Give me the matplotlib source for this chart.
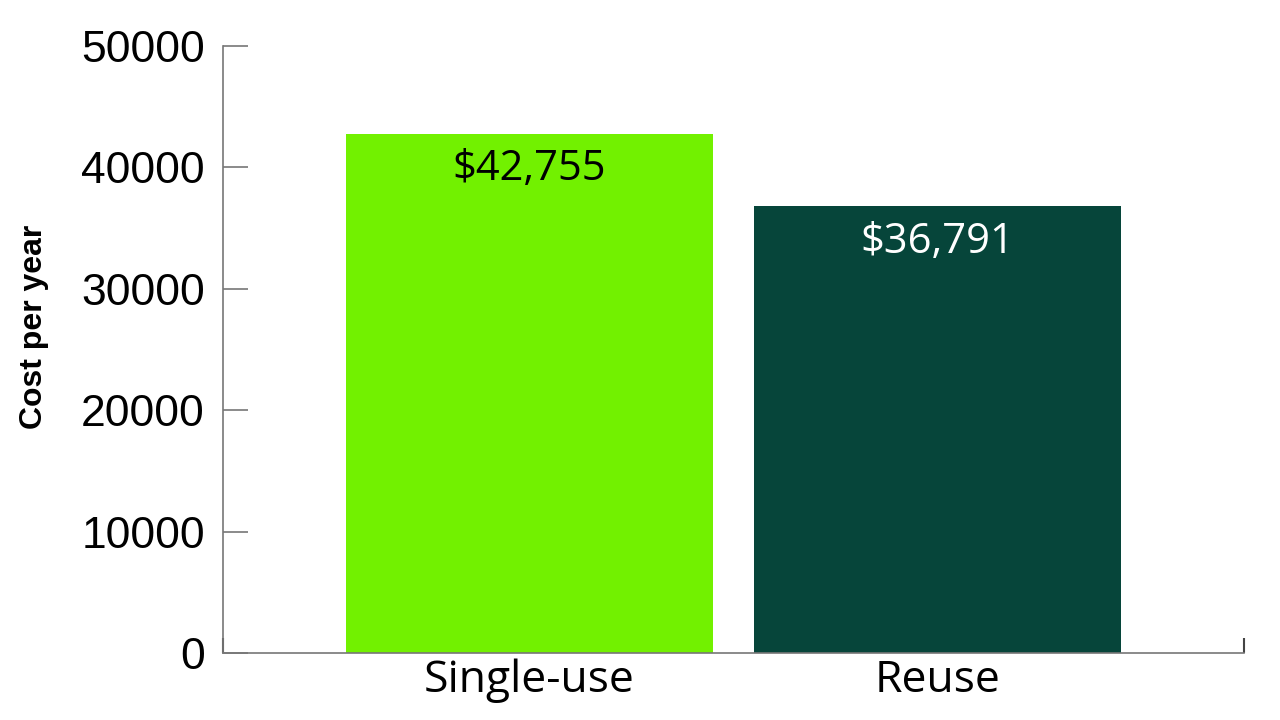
import matplotlib
matplotlib.use("Agg")
import matplotlib.pyplot as plt

categories = ["Single-use", "Reuse"]
values = [42755, 36791]
bar_labels = ["$42,755", "$36,791"]
colors = ["#72F100", "#06453A"]
label_colors = ["black", "white"]
yticks = [0, 10000, 20000, 30000, 40000, 50000]

fig = plt.figure(figsize=(12.8, 7.2), dpi=100)
ax = fig.add_axes([223/1280, 1-653/720, (1244-223)/1280, (653-46)/720])

x = list(range(len(categories)))
ax.bar(x, values, width=0.9, color=colors, zorder=2)
for xi, v, lab, lc in zip(x, values, bar_labels, label_colors):
    ax.annotate(lab, (xi, v), xytext=(0, -25.5), textcoords="offset points",
                ha="center", va="center", fontsize=30, color=lc, family="Open Sans")

ax.set_xlim(-0.75, 1.75)
ax.set_ylim(0, 50000)
ax.set_yticks(yticks)
ax.set_yticklabels([str(t) for t in yticks], family="Liberation Sans", fontsize=32)
ax.set_xticks(x)
ax.set_xticklabels(categories, family="Open Sans", fontsize=32)
ax.tick_params(axis="x", length=0, pad=4)
ax.tick_params(axis="y", direction="in", length=18, width=1.2, color="#777777", pad=13)
ax.set_xticks([-0.75, 1.75], minor=True)
ax.tick_params(axis="x", which="minor", direction="in", length=11, width=1.5, color="#444444")

for s in ["top", "right"]:
    ax.spines[s].set_visible(False)
for s in ["left", "bottom"]:
    ax.spines[s].set_color("#777777")
    ax.spines[s].set_linewidth(1.2)

fig.text(34/1280, 1-327/720, "Cost per year", family="Liberation Sans", fontweight="bold",
         fontsize=23, rotation=90, ha="center", va="center")

fig.savefig("out.png", dpi=100)
